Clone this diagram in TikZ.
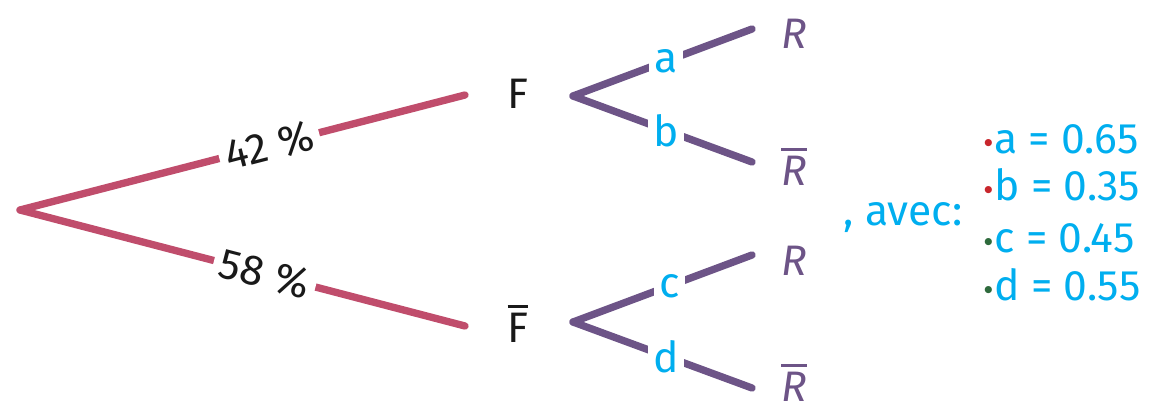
\documentclass[tikz,border=0pt]{standalone}
\usepackage{fontspec}
\setmainfont{Fira Sans}
\newfontfamily\symbolfont{DejaVu Sans}
\usetikzlibrary{positioning}
\definecolor{tree-red}{HTML}{C04D6C}
\definecolor{tree-purple}{HTML}{6D5487}
\definecolor{prob-cyan}{HTML}{00AEEF}
\definecolor{dot-red}{HTML}{C8262C}
\definecolor{dot-green}{HTML}{2E6A3C}
\newcommand{\barred}[1]{\leavevmode\vbox{\hrule height 2.2pt\kern 3.5pt\hbox{#1}}}
\newcommand{\dotmark}[1]{\raisebox{6pt}{\textcolor{#1}{\symbolfont\fontsize{7}{7}\selectfont ●}}\kern1.5pt}

\begin{document}
\begin{tikzpicture}[x=0.75pt, y=-0.75pt,
    every node/.style={font=\fontsize{32}{38}\selectfont},
    event/.style={anchor=base, inner sep=0pt, text=black!90},
    outcome/.style={anchor=base, inner sep=0pt, text=tree-purple, font=\fontsize{32}{38}\selectfont\itshape},
    trunk/.style={line width=5.5pt, line cap=round, draw=tree-red},
    twig/.style={line width=5.5pt, line cap=round, draw=tree-purple},
    pct/.style={fill=white, sloped, inner sep=5pt, text=black!90},
    prob/.style={fill=white, inner sep=4pt, text=prob-cyan},
    value/.style={anchor=base west, inner sep=0pt, text=prob-cyan}]
    \useasboundingbox (0,0) rectangle (1153,404);

    % Root and first level
    \coordinate (root) at (20,210);
    \node[event] (F) at (518,108) {F};
    \node[event] (Fb) at (518,342) {\barred{F}};

    % Second level
    \node[outcome] (R1) at (794,48) {R};
    \node[outcome] (R2) at (794,185) {\barred{R}};
    \node[outcome] (R3) at (794,275) {R};
    \node[outcome] (R4) at (794,401) {\barred{R}};

    % Branches
    \draw[trunk] (root) -- node[pct, pos=0.56] (p42) {42 \%} ([shift={(-53,-13)}]F.base);
    \draw[trunk] (root) -- node[pct, pos=0.55] (p58) {58 \%} ([shift={(-53,-16)}]Fb.base);
    \draw[twig] ([shift={(55,-12)}]F.base) -- node[prob, pos=0.52] (pa) {a} ([shift={(-42,-19)}]R1.base);
    \draw[twig] ([shift={(55,-12)}]F.base) -- node[prob, pos=0.52] (pb) {b} ([shift={(-42,-23)}]R2.base);
    \draw[twig] ([shift={(55,-20)}]Fb.base) -- node[prob, pos=0.54] (pc) {c} ([shift={(-42,-20)}]R3.base);
    \draw[twig] ([shift={(55,-20)}]Fb.base) -- node[prob, pos=0.52] (pd) {d} ([shift={(-42,-13)}]R4.base);

    % Values
    \node[anchor=base, inner sep=0pt, text=prob-cyan] (avec) at (903,225) {, avec:};
    \node[value] (la) at (984,153) {\dotmark{dot-red}a = 0.65};
    \node[value] (lb) at (984,200) {\dotmark{dot-red}b = 0.35};
    \node[value] (lc) at (984,252) {\dotmark{dot-green}c = 0.45};
    \node[value] (ld) at (984,300) {\dotmark{dot-green}d = 0.55};
\end{tikzpicture}
\end{document}
